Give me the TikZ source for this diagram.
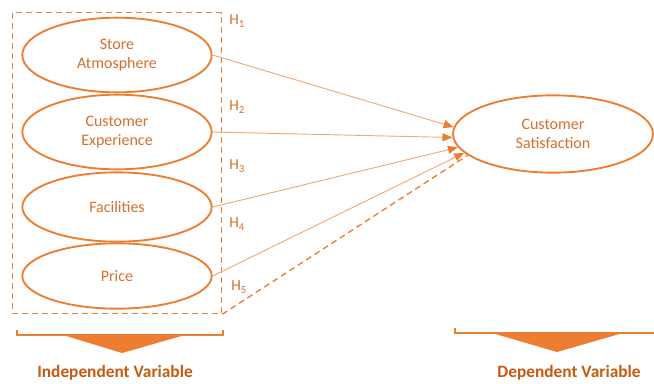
\documentclass[tikz,border=0pt]{standalone}
\usepackage{fontspec}
\setmainfont{Carlito}
\usetikzlibrary{arrows.meta,shapes.geometric,fit}
\definecolor{orng}{HTML}{ED7D31}
\definecolor{orngtxt}{HTML}{D4702C}
\definecolor{orngline}{HTML}{F3A877}
\definecolor{orngdark}{HTML}{C55A11}
\tikzset{
  var/.style={draw=orng,ellipse,line width=1.4pt,minimum width=142pt,inner sep=0pt,align=center,text=orngtxt,font=\fontsize{12}{14.5}\selectfont},
  hyp/.style={text=orngtxt,font=\fontsize{11.5}{13}\selectfont,anchor=west,inner sep=0pt},
  hypline/.style={draw=orngline,line width=0.7pt,-{Triangle[length=7.5pt,width=6pt,color=orng]}},
  dashbox/.style={draw=orng,line width=1pt,dash pattern=on 4.5pt off 3pt},
  bracket/.style={draw=orng,line width=1.3pt},
  varlabel/.style={text=orngdark,font=\fontsize{13}{15}\selectfont\bfseries}
}
\begin{document}
\begin{tikzpicture}[x=0.75pt,y=-0.75pt]
  \useasboundingbox (0,0) rectangle (654,383);
  % independent variables
  \node[var,minimum height=56pt] (store) at (117,55) {Store\\Atmosphere};
  \node[var,minimum height=56pt] (exper) at (117,132) {Customer\\Experience};
  \node[var,minimum height=52pt] (facil) at (117,207) {Facilities};
  \node[var,minimum height=49pt] (price) at (117,276) {Price};
  \node[dashbox,fit=(store)(price),inner xsep=6.75pt,inner ysep=3pt] (ivbox) {};
  % dependent variable
  \node[var,minimum width=150pt,minimum height=58pt] (satis) at (553,134) {Customer\\Satisfaction};
  % hypotheses
  \node[hyp] (h1) at (229,21) {H\textsubscript{1}};
  \node[hyp] (h2) at (229,107) {H\textsubscript{2}};
  \node[hyp] (h3) at (229,166) {H\textsubscript{3}};
  \node[hyp] (h4) at (229,224) {H\textsubscript{4}};
  \node[hyp] (h5) at (231,287) {H\textsubscript{5}};
  \draw[hypline] (store.east) -- (satis.176);
  \draw[hypline] (exper.east) -- (satis.182);
  \draw[hypline] (facil.east) -- (satis.188);
  \draw[hypline] (price.east) -- (satis.192);
  \draw[dashbox] (ivbox.south east) -- (satis.194);
  % brackets
  \draw[bracket] (17,330) -- (17,335) -- (223,335) -- (223,330);
  \fill[orng] (63,335) -- (185,335) -- (122,353) -- cycle;
  \draw[bracket] (455,328) -- (455,333) -- (654,333);
  \fill[orng] (492,333) -- (623,333) -- (557,352) -- cycle;
  \node[varlabel] (indep) at (115,373) {Independent Variable};
  \node[varlabel] (dep) at (569,373) {Dependent Variable};
\end{tikzpicture}
\end{document}
